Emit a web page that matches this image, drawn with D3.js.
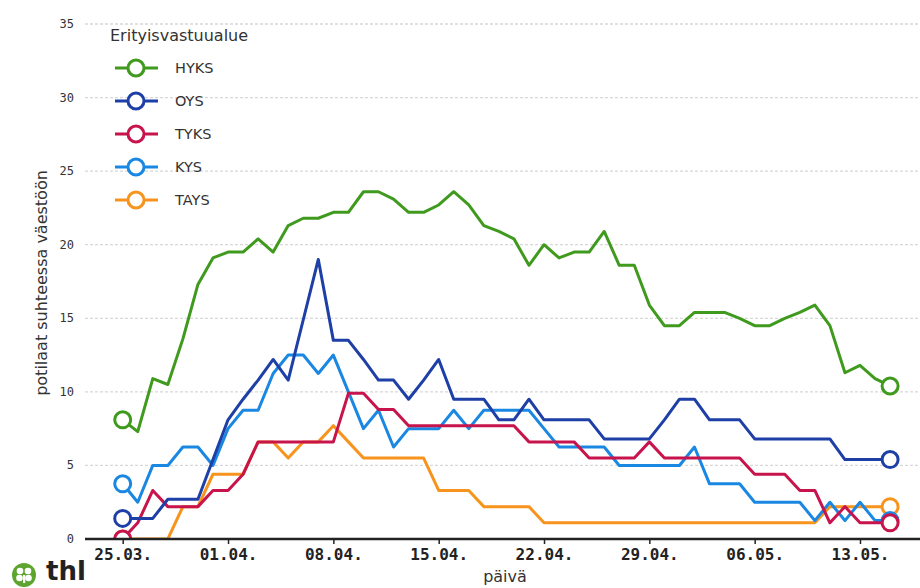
<!DOCTYPE html>
<html>
<head>
<meta charset="utf-8">
<script src="https://cdn.jsdelivr.net/npm/d3@7"></script>
<style>
  html, body { margin: 0; padding: 0; background: #fff; }
  svg { display: block; }
</style>
</head>
<body>
<svg id="chart" width="920" height="588"></svg>
<script>
// ---------- data ----------
const startDate = "2020-03-25";
const endDate = "2020-05-15";
const seriesNames = ["HYKS", "OYS", "TYKS", "KYS", "TAYS"];
const seriesColors = ["#3f9a1e", "#1d3fa6", "#c8144c", "#1a88e2", "#f7941d"];

const HYKS = [8.1, 7.3, 10.9, 10.5, 13.6, 17.3, 19.1, 19.5, 19.5, 20.4,
  19.5, 21.3, 21.8, 21.8, 22.2, 22.2, 23.6, 23.6, 23.1, 22.2,
  22.2, 22.7, 23.6, 22.7, 21.3, 20.9, 20.4, 18.6, 20.0, 19.1,
  19.5, 19.5, 20.9, 18.6, 18.6, 15.9, 14.5, 14.5, 15.4, 15.4,
  15.4, 15.0, 14.5, 14.5, 15.0, 15.4, 15.9, 14.5, 11.3, 11.8,
  10.9, 10.4];
const OYS = [1.4, 1.4, 1.4, 2.7, 2.7, 2.7, 5.4, 8.1, 9.5, 10.8,
  12.2, 10.8, 14.9, 19.0, 13.5, 13.5, 12.2, 10.8, 10.8, 9.5,
  10.8, 12.2, 9.5, 9.5, 9.5, 8.1, 8.1, 9.5, 8.1, 8.1,
  8.1, 8.1, 6.8, 6.8, 6.8, 6.8, 8.1, 9.5, 9.5, 8.1,
  8.1, 8.1, 6.8, 6.8, 6.8, 6.8, 6.8, 6.8, 5.4, 5.4,
  5.4, 5.4];
const TYKS = [0, 1.1, 3.3, 2.2, 2.2, 2.2, 3.3, 3.3, 4.4, 6.6,
  6.6, 6.6, 6.6, 6.6, 6.6, 9.9, 9.9, 8.8, 8.8, 7.7,
  7.7, 7.7, 7.7, 7.7, 7.7, 7.7, 7.7, 6.6, 6.6, 6.6,
  6.6, 5.5, 5.5, 5.5, 5.5, 6.6, 5.5, 5.5, 5.5, 5.5,
  5.5, 5.5, 4.4, 4.4, 4.4, 3.3, 3.3, 1.1, 2.2, 1.1,
  1.1, 1.1];
const KYS = [3.75, 2.5, 5.0, 5.0, 6.25, 6.25, 5.0, 7.5, 8.75, 8.75,
  11.25, 12.5, 12.5, 11.25, 12.5, 10.0, 7.5, 8.75, 6.25, 7.5,
  7.5, 7.5, 8.75, 7.5, 8.75, 8.75, 8.75, 8.75, 7.5, 6.25,
  6.25, 6.25, 6.25, 5.0, 5.0, 5.0, 5.0, 5.0, 6.25, 3.75,
  3.75, 3.75, 2.5, 2.5, 2.5, 2.5, 1.25, 2.5, 1.25, 2.5,
  1.25, 1.25];
const TAYS = [0, 0, 0, 0, 2.2, 2.2, 4.4, 4.4, 4.4, 6.6,
  6.6, 5.5, 6.6, 6.6, 7.7, 6.6, 5.5, 5.5, 5.5, 5.5,
  5.5, 3.3, 3.3, 3.3, 2.2, 2.2, 2.2, 2.2, 1.1, 1.1,
  1.1, 1.1, 1.1, 1.1, 1.1, 1.1, 1.1, 1.1, 1.1, 1.1,
  1.1, 1.1, 1.1, 1.1, 1.1, 1.1, 1.1, 2.2, 2.2, 2.2,
  2.2, 2.2];
const seriesValues = [HYKS, OYS, TYKS, KYS, TAYS];

const yTicks = [0, 5, 10, 15, 20, 25, 30, 35];
const xTickDates = ["2020-03-25", "2020-04-01", "2020-04-08", "2020-04-15",
  "2020-04-22", "2020-04-29", "2020-05-06", "2020-05-13"];
const legendTitle = "Erityisvastuualue";
const yLabel = "potilaat suhteessa väestöön";
const xLabel = "päivä";

// ---------- build ----------
const parse = d3.utcParse("%Y-%m-%d");
const dates = d3.utcDay.range(parse(startDate), d3.utcDay.offset(parse(endDate), 1));

const svg = d3.select("#chart");
const plotLeft = 85, plotRight = 920, plotTop = 0, plotBottom = 539;

const x = d3.scaleUtc()
  .domain([parse("2020-03-25"), parse("2020-05-13")])
  .range([122.7, 860]);
const y = d3.scaleLinear().domain([0, 35]).range([539, 24]);

// grid
const grid = svg.append("g");
grid.selectAll("line").data(yTicks.filter(d => d > 0)).join("line")
  .attr("x1", plotLeft).attr("x2", plotRight)
  .attr("y1", d => y(d)).attr("y2", d => y(d))
  .attr("stroke", "#d8d8d8").attr("stroke-width", 1.3)
  .attr("stroke-dasharray", "3,2");

// y tick labels
svg.append("g").selectAll("text").data(yTicks).join("text")
  .attr("x", 74).attr("y", d => y(d) + 4)
  .attr("text-anchor", "end")
  .attr("font-family", "DejaVu Sans Mono, monospace")
  .attr("font-size", 12).attr("fill", "#333")
  .text(d => d);

// clip
svg.append("defs").append("clipPath").attr("id", "plotclip")
  .append("rect").attr("x", plotLeft).attr("y", plotTop)
  .attr("width", plotRight - plotLeft).attr("height", plotBottom - plotTop);

const line = d3.line()
  .x((d, i) => x(dates[i]))
  .y(d => y(d));

const plot = svg.append("g").attr("clip-path", "url(#plotclip)");
// draw in reverse order so first series ends on top
const order = d3.range(seriesNames.length).reverse();
order.forEach(k => {
  const vals = seriesValues[k];
  const g = plot.append("g");
  g.append("path").datum(vals)
    .attr("d", line)
    .attr("fill", "none")
    .attr("stroke", seriesColors[k])
    .attr("stroke-width", 3)
    .attr("stroke-linejoin", "round");
  const last = vals.length - 1;
  [0, last].forEach(i => {
    g.append("circle")
      .attr("cx", x(dates[i])).attr("cy", y(vals[i]))
      .attr("r", 8)
      .attr("fill", "#fff")
      .attr("stroke", seriesColors[k])
      .attr("stroke-width", 3);
  });
});

// x axis
const xAxis = d3.axisBottom(x)
  .tickValues(xTickDates.map(parse))
  .tickFormat(d3.utcFormat("%d.%m."))
  .tickSize(5).tickPadding(5);
const ax = svg.append("g").attr("transform", `translate(0,${plotBottom})`).call(xAxis);
ax.select(".domain").attr("d", `M${plotLeft},0H${plotRight}`)
  .attr("stroke", "#222").attr("stroke-width", 2.5);
ax.selectAll(".tick line").attr("stroke", "#222").attr("stroke-width", 1.5);
ax.selectAll(".tick text")
  .attr("font-family", "DejaVu Sans Mono, monospace")
  .attr("font-weight", "bold")
  .attr("font-size", 16).attr("fill", "#222");

// axis labels
svg.append("text")
  .attr("transform", "translate(47,283) rotate(-90)")
  .attr("text-anchor", "middle")
  .attr("font-family", "DejaVu Sans, sans-serif")
  .attr("font-size", 16).attr("fill", "#333")
  .text(yLabel);
svg.append("text")
  .attr("x", 505).attr("y", 582)
  .attr("text-anchor", "middle")
  .attr("font-family", "DejaVu Sans, sans-serif")
  .attr("font-size", 16).attr("fill", "#333")
  .text(xLabel);

// legend
const lg = svg.append("g");
lg.append("text").attr("x", 110).attr("y", 41)
  .attr("font-family", "DejaVu Sans, sans-serif")
  .attr("font-size", 16).attr("fill", "#333")
  .text(legendTitle);
seriesNames.forEach((name, k) => {
  const yy = 68 + k * 33;
  lg.append("line").attr("x1", 115).attr("x2", 158)
    .attr("y1", yy).attr("y2", yy)
    .attr("stroke", seriesColors[k]).attr("stroke-width", 3);
  lg.append("circle").attr("cx", 136).attr("cy", yy).attr("r", 8)
    .attr("fill", "#fff").attr("stroke", seriesColors[k]).attr("stroke-width", 3);
  lg.append("text").attr("x", 175).attr("y", yy + 5)
    .attr("font-family", "DejaVu Sans, sans-serif")
    .attr("font-size", 14.5).attr("fill", "#333")
    .text(name);
});

// thl logo
const logo = svg.append("g");
logo.append("circle").attr("cx", 24).attr("cy", 575).attr("r", 12).attr("fill", "#5ea52f");
[[-4, -4], [4, -4], [-4.5, 3], [4.5, 3]].forEach(([dx, dy]) => {
  logo.append("circle").attr("cx", 24 + dx).attr("cy", 575 + dy).attr("r", 3.3).attr("fill", "#fff");
});
logo.append("rect").attr("x", 23).attr("y", 575).attr("width", 2.2).attr("height", 8).attr("fill", "#fff");
logo.append("text").attr("x", 46).attr("y", 580)
  .attr("font-family", "DejaVu Sans, sans-serif")
  .attr("font-weight", "bold")
  .attr("font-size", 26).attr("fill", "#222")
  .text("thl");
</script>
</body>
</html>
